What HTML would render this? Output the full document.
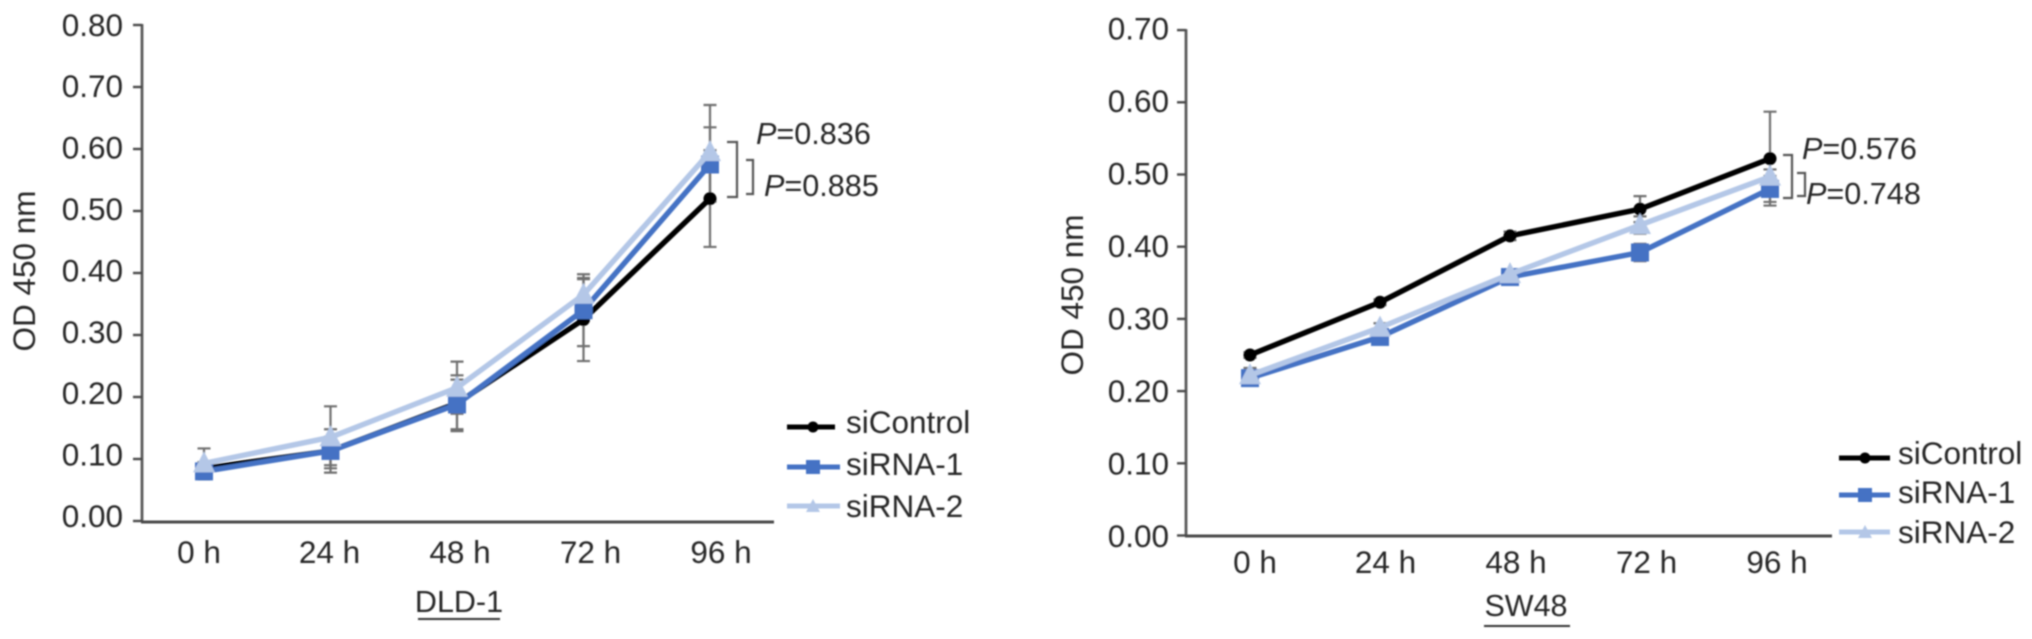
<!DOCTYPE html>
<html lang="en">
<head>
<meta charset="utf-8">
<title>OD 450 nm growth curves: DLD-1 and SW48</title>
<style>
  html, body { margin: 0; padding: 0; background: #fff; }
  #figure { display: block; width: 2032px; height: 639px; background: #fff; }
  text { font-family: "Liberation Sans", sans-serif; fill: #262626; font-size: 31.5px; }
  #content { filter: url(#soft); }
</style>
</head>
<body>
<svg id="figure" xmlns="http://www.w3.org/2000/svg" width="2032" height="639" viewBox="0 0 2032 639">
  <defs><filter id="soft" filterUnits="userSpaceOnUse" x="0" y="0" width="2032" height="639"><feGaussianBlur stdDeviation="0.7"/></filter></defs>
  <g id="content">
    <g id="chart-left">
      <text transform="translate(35 271) rotate(-90)" text-anchor="middle">OD 450 nm</text>
      <text x="459" y="612" text-anchor="middle" style="font-size:30.5px">DLD-1</text>
      <line x1="418" x2="500" y1="619" y2="619" stroke="#333" stroke-width="2"/>
      <path d="M727 142H737V197H727" fill="none" stroke="#555" stroke-width="2.2"/>
      <path d="M746 160H753V194H746" fill="none" stroke="#555" stroke-width="2.2"/>
      <text x="756" y="144" style="font-size:30.6px"><tspan font-style="italic">P</tspan>=0.836</text>
      <text x="764" y="196" style="font-size:30.6px"><tspan font-style="italic">P</tspan>=0.885</text>
      <g>
        <g>
          <line x1="787" x2="835" y1="427" y2="427" stroke="#000" stroke-width="5"/>
          <circle cx="813" cy="427" r="5.5" fill="#000"/>
          <text x="846" y="433">siControl</text>
        </g>
        <g>
          <line x1="787" x2="840" y1="467" y2="467" stroke="#4472c4" stroke-width="5"/>
          <rect x="806" y="460" width="14" height="14" fill="#4472c4"/>
          <text x="846" y="475">siRNA-1</text>
        </g>
        <g>
          <line x1="787" x2="840" y1="506" y2="506" stroke="#b4c7e7" stroke-width="5"/>
          <polygon points="813,499 820,512 806,512" fill="#b4c7e7"/>
          <text x="846" y="517">siRNA-2</text>
        </g>
      </g>
    </g>
    <g id="chart-right">
      <text transform="translate(1083 295) rotate(-90)" text-anchor="middle">OD 450 nm</text>
      <text x="1526" y="616" text-anchor="middle" style="font-size:30.5px">SW48</text>
      <line x1="1484" x2="1570" y1="626" y2="626" stroke="#333" stroke-width="2"/>
      <path d="M1783 155H1792V198H1783" fill="none" stroke="#555" stroke-width="2.2"/>
      <path d="M1797 173H1805V196H1797" fill="none" stroke="#555" stroke-width="2.2"/>
      <text x="1802" y="159" style="font-size:30.6px"><tspan font-style="italic">P</tspan>=0.576</text>
      <text x="1806" y="204" style="font-size:30.6px"><tspan font-style="italic">P</tspan>=0.748</text>
      <g>
        <g>
          <line x1="1839" x2="1890" y1="458" y2="458" stroke="#000" stroke-width="5"/>
          <circle cx="1865" cy="458" r="5.5" fill="#000"/>
          <text x="1898" y="464">siControl</text>
        </g>
        <g>
          <line x1="1839" x2="1890" y1="495" y2="495" stroke="#4472c4" stroke-width="5"/>
          <rect x="1858" y="488" width="14" height="14" fill="#4472c4"/>
          <text x="1898" y="503">siRNA-1</text>
        </g>
        <g>
          <line x1="1839" x2="1890" y1="532" y2="532" stroke="#b4c7e7" stroke-width="5"/>
          <polygon points="1865,525 1872,538 1858,538" fill="#b4c7e7"/>
          <text x="1898" y="543">siRNA-2</text>
        </g>
      </g>
    </g>
  </g>
</svg>
<script>
// Shared categories
const timepoints = ['0 h', '24 h', '48 h', '72 h', '96 h'];

// DLD-1 values
const dldTicks = ['0.00', '0.10', '0.20', '0.30', '0.40', '0.50', '0.60', '0.70', '0.80'];
const dldControl = [0.085, 0.113, 0.190, 0.325, 0.520];
const dldSirna1 = [0.080, 0.113, 0.188, 0.340, 0.575];
const dldSirna2 = [0.093, 0.135, 0.215, 0.365, 0.595];
const dldControlErr = [0.010, 0.035, 0.045, 0.067, 0.078];
const dldSirna1Err = [0.013, 0.023, 0.040, 0.058, 0.060];
const dldSirna2Err = [0.024, 0.050, 0.042, 0.025, 0.076];

// SW48 values
const swTicks = ['0.00', '0.10', '0.20', '0.30', '0.40', '0.50', '0.60', '0.70'];
const swControl = [0.250, 0.323, 0.415, 0.452, 0.522];
const swSirna1 = [0.218, 0.275, 0.358, 0.392, 0.480];
const swSirna2 = [0.222, 0.288, 0.362, 0.430, 0.497];
const swControlErr = [0.004, 0.004, 0.006, 0.018, 0.065];
const swSirna1Err = [0.008, 0.005, 0.005, 0.012, 0.018];
const swSirna2Err = [0.010, 0.006, 0.006, 0.012, 0.010];

const SVG_NS = 'http://www.w3.org/2000/svg';

function mk(tag, attrs, parent) {
  const node = document.createElementNS(SVG_NS, tag);
  for (const key in attrs) node.setAttribute(key, attrs[key]);
  parent.appendChild(node);
  return node;
}

function drawChart(root, geom, ticks, series) {
  const x = i => geom.x0 + geom.dx * i;
  const y = v => geom.y0 - geom.perUnit * v;
  const tickLabelY = v => geom.labelY0 - geom.labelPerUnit * v;
  const catLabelX = i => geom.catX0 + geom.catDx * i;

  const axes = mk('g', {}, root);
  
  

  const yAxis = mk('line', { x1: geom.axisX, x2: geom.axisX, y1: y(Number(ticks[ticks.length - 1])) - 1, y2: geom.baseY, stroke: '#5a5a5a', 'stroke-width': 2.8 }, axes);
  
  

  const xAxis = mk('line', { x1: geom.axisX - 1, x2: geom.axisEnd, y1: geom.baseY, y2: geom.baseY, stroke: '#4a4a4a', 'stroke-width': 3 }, axes);
  
  

  ticks.forEach(label => {
    const v = Number(label);
    const tick = mk('line', { x1: geom.axisX - 9, x2: geom.axisX, y1: y(v), y2: y(v), stroke: '#4a4a4a', 'stroke-width': 2.4 }, axes);
    
    
    const text = mk('text', { x: geom.labelRight, y: tickLabelY(v), 'text-anchor': 'end' }, axes);
    
    
    text.textContent = label;
  });

  timepoints.forEach((label, i) => {
    const text = mk('text', { x: catLabelX(i), y: geom.catY, 'text-anchor': 'middle' }, axes);
    
    
    text.textContent = label;
  });

  const bars = mk('g', {}, root);
  
  
  series.forEach(s => {
    s.values.forEach((v, i) => {
      const hi = y(v + s.err[i]);
      const lo = y(v - s.err[i]);
      const cx = x(i);
      const bar = mk('path', { d: 'M' + (cx - 6.5) + ' ' + hi + 'H' + (cx + 6.5) + 'M' + cx + ' ' + hi + 'V' + lo + 'M' + (cx - 6.5) + ' ' + lo + 'H' + (cx + 6.5), fill: 'none', stroke: '#6f6f6f', 'stroke-width': 2.2 }, bars);
      
      
    });
  });

  series.forEach(s => {
    const group = mk('g', {}, root);
    
    
    const pts = s.values.map((v, i) => x(i) + ',' + y(v)).join(' ');
    const line = mk('polyline', { points: pts, fill: 'none', stroke: s.color, 'stroke-width': 5.4, 'stroke-linejoin': 'round' }, group);
    
    
    s.values.forEach((v, i) => {
      const cx = x(i);
      const cy = y(v);
      let marker;
      if (s.shape === 'circle') {
        marker = mk('circle', { cx: cx, cy: cy, r: 6.5, fill: s.color }, group);
      } else if (s.shape === 'square') {
        marker = mk('rect', { x: cx - 9, y: cy - 9, width: 18, height: 18, fill: s.color }, group);
      } else {
        marker = mk('polygon', { points: cx + ',' + (cy - 12) + ' ' + (cx + 11) + ',' + (cy + 9) + ' ' + (cx - 11) + ',' + (cy + 9), fill: s.color }, group);
      }
      
      
    });
  });
}

drawChart(document.getElementById('chart-left'),
  { x0: 204, dx: 126.5, y0: 521, perUnit: 620, axisX: 142, axisEnd: 774, baseY: 522,
    labelRight: 123, labelY0: 527, labelPerUnit: 614, catX0: 199, catDx: 130.5, catY: 563 },
  dldTicks,
  [
    { name: 'sicontrol', color: '#000000', shape: 'circle', values: dldControl, err: dldControlErr },
    { name: 'sirna-1', color: '#4472c4', shape: 'square', values: dldSirna1, err: dldSirna1Err },
    { name: 'sirna-2', color: '#b4c7e7', shape: 'triangle', values: dldSirna2, err: dldSirna2Err }
  ]);

drawChart(document.getElementById('chart-right'),
  { x0: 1250, dx: 130, y0: 535.5, perUnit: 722, axisX: 1186, axisEnd: 1832, baseY: 536,
    labelRight: 1169, labelY0: 547, labelPerUnit: 725, catX0: 1255, catDx: 130.5, catY: 573 },
  swTicks,
  [
    { name: 'sicontrol', color: '#000000', shape: 'circle', values: swControl, err: swControlErr },
    { name: 'sirna-1', color: '#4472c4', shape: 'square', values: swSirna1, err: swSirna1Err },
    { name: 'sirna-2', color: '#b4c7e7', shape: 'triangle', values: swSirna2, err: swSirna2Err }
  ]);
</script>
</body>
</html>
